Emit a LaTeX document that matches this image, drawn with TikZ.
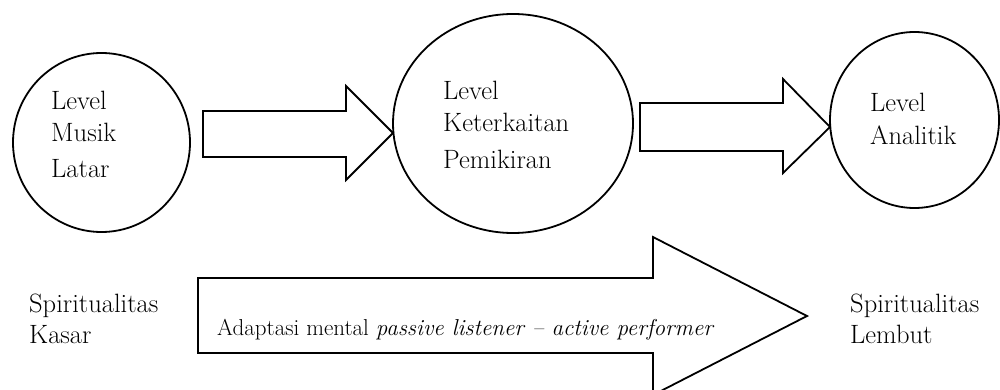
\documentclass[tikz,border=0pt]{standalone}
\usetikzlibrary{shapes.geometric}
\begin{document}
\begin{tikzpicture}[x=1pt,y=-1pt,
  stage/.style={draw, ellipse, line width=1.8pt, inner sep=0pt},
  blockarrow/.style={draw, line width=1.8pt, line join=miter, fill=white},
  lbl/.style={anchor=base west, inner sep=0pt, font=\fontsize{26.5}{30}\selectfont},
  flowtext/.style={anchor=base west, inner sep=0pt, font=\fontsize{23}{27}\selectfont}]
\useasboundingbox (0,0) rectangle (1000,390);

% three levels
\node[stage, minimum width=177pt, minimum height=179pt] (c1) at (101.5,142.5) {};
\node[stage, minimum width=240pt, minimum height=219pt] (c2) at (513,123.5) {};
\node[stage, minimum width=169pt, minimum height=176pt] (c3) at (914.5,120) {};

% level texts
\node[lbl] (c1a) at (51,110) {Level};
\node[lbl] (c1b) at (51,142) {Musik};
\node[lbl] (c1c) at (51,178) {Latar};

\node[lbl] (c2a) at (443,100) {Level};
\node[lbl] (c2b) at (443,132) {Keterkaitan};
\node[lbl] (c2c) at (443,168) {Pemikiran};

\node[lbl] (c3a) at (870,112) {Level};
\node[lbl] (c3b) at (870,145) {Analitik};

% block arrows between the levels
\draw[blockarrow] (203,111) -- (346,111) -- (346,86) -- (393,133)
  -- (346,180) -- (346,157) -- (203,157) -- cycle;
\draw[blockarrow] (640,103) -- (783,103) -- (783,79) -- (830,127)
  -- (783,173) -- (783,151) -- (640,151) -- cycle;

% large arrow of mental adaptation
\draw[blockarrow] (198,278) -- (653,278) -- (653,237) -- (807,316)
  -- (653,395) -- (653,353) -- (198,353) -- cycle;
\node[flowtext] (adapt) at (217,335) {Adaptasi mental \textit{passive listener -- active performer}};

% end points of the spiritual scale
\node[lbl] (kasar1) at (29,312) {Spiritualitas};
\node[lbl] (kasar2) at (29,343) {Kasar};
\node[lbl] (lembut1) at (850,312) {Spiritualitas};
\node[lbl] (lembut2) at (850,343) {Lembut};
\end{tikzpicture}
\end{document}
